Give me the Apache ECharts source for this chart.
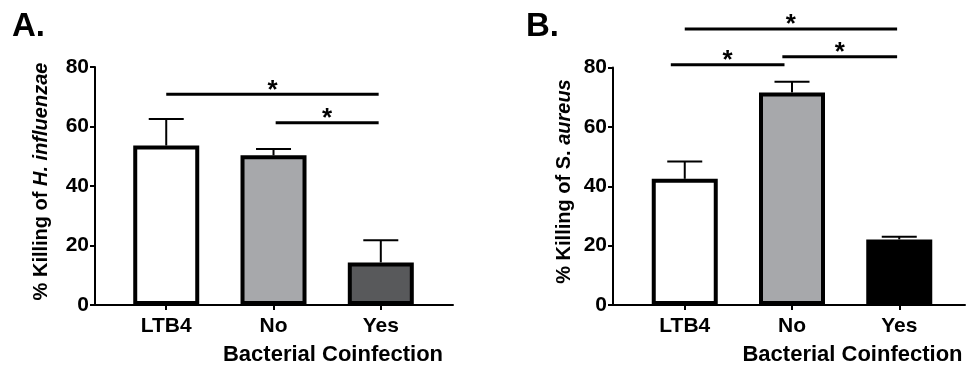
<!DOCTYPE html>
<html>
<head>
<meta charset="utf-8">
<script src="https://cdn.jsdelivr.net/npm/echarts@6/dist/echarts.min.js"></script>
<style>
html,body{margin:0;padding:0;background:#fff;}
#c{width:970px;height:366px;}
</style>
</head>
<body>
<div id="c"></div>
<script>
// ---- data ----
const categories = ['LTB4', 'No', 'Yes'];
const yTicks = [0, 20, 40, 60, 80];
// Panel A: % killing of H. influenzae
const meansA = [53.6, 50.3, 14.3];
const upperA = [62.5, 52.4, 21.8];
// Panel B: % killing of S. aureus
const meansB = [42.5, 71.6, 22.1];
const upperB = [48.3, 75.2, 23.0];
// significance brackets: [fromCategoryPos, toCategoryPos, yValue]
const sigA = [[1.0, 2.98, 70.8], [2.02, 2.98, 61.3]];
const sigB = [[1.0, 2.98, 93.0], [0.87, 1.93, 80.9], [1.91, 2.98, 83.6]];
const barColorsA = ['#ffffff', '#a7a8ab', '#58595b'];
const barColorsB = ['#ffffff', '#a7a8ab', '#000000'];

const FONT = '"Liberation Sans", Arial, sans-serif';
const catPos = categories.map((c, i) => i + 1);

function xAxisDef(gi, min, max) {
  return {
    type: 'value', gridIndex: gi, min: min, max: max,
    axisLine: { show: true, onZero: false, lineStyle: { color: '#000', width: 2 } },
    axisTick: { show: true, customValues: catPos, length: 5, lineStyle: { color: '#000', width: 2 } },
    axisLabel: {
      customValues: catPos, margin: 11,
      formatter: v => categories[Math.round(v) - 1] || '',
      color: '#000', fontFamily: FONT, fontWeight: 'bold', fontSize: 21
    },
    splitLine: { show: false }
  };
}
function yAxisDef(gi) {
  return {
    type: 'value', gridIndex: gi, min: 0, max: 80, interval: 20,
    axisLine: { show: true, lineStyle: { color: '#000', width: 2 } },
    axisTick: { show: true, length: 5, customValues: yTicks, lineStyle: { color: '#000', width: 2 } },
    axisLabel: { customValues: yTicks, margin: 6, color: '#000', fontFamily: FONT, fontWeight: 'bold', fontSize: 21 },
    splitLine: { show: false }
  };
}
function barSeries(gi, means, colors) {
  return {
    type: 'bar', xAxisIndex: gi, yAxisIndex: gi, barWidth: 66, z: 3,
    data: means.map((m, i) => ({ value: [catPos[i], m], itemStyle: { color: colors[i], borderColor: '#000', borderWidth: 4 } })),
    animation: false
  };
}
function errSeries(gi, means, upper) {
  return {
    type: 'custom', xAxisIndex: gi, yAxisIndex: gi, z: 2, clip: false,
    encode: { x: 0, y: [1, 2] },
    data: means.map((m, i) => [catPos[i], m, upper[i]]),
    renderItem: function (params, api) {
      const x = api.value(0), m = api.value(1), u = api.value(2);
      const p0 = api.coord([x, m]), p1 = api.coord([x, u]);
      const hw = 17.5;
      const st = { stroke: '#000', lineWidth: 2 };
      return { type: 'group', children: [
        { type: 'line', shape: { x1: p0[0], y1: p0[1], x2: p1[0], y2: p1[1] }, style: st },
        { type: 'line', shape: { x1: p1[0] - hw, y1: p1[1], x2: p1[0] + hw, y2: p1[1] }, style: st }
      ]};
    },
    animation: false
  };
}
function sigSeries(gi, sig) {
  return {
    type: 'custom', xAxisIndex: gi, yAxisIndex: gi, z: 4, clip: false,
    encode: { x: [0, 1], y: 2 },
    data: sig,
    renderItem: function (params, api) {
      const a = api.coord([api.value(0), api.value(2)]);
      const b = api.coord([api.value(1), api.value(2)]);
      return { type: 'group', children: [
        { type: 'line', shape: { x1: a[0], y1: a[1], x2: b[0], y2: b[1] }, style: { stroke: '#000', lineWidth: 3 } },
        { type: 'text', style: { text: '*', x: (a[0] + b[0]) / 2, y: a[1] - 4, align: 'center', verticalAlign: 'middle',
            font: 'bold 26px ' + FONT, fill: '#000' } }
      ]};
    },
    animation: false
  };
}

const chart = echarts.init(document.getElementById('c'), null, { renderer: 'canvas' });
chart.setOption({
  backgroundColor: '#fff',
  animation: false,
  grid: [
    { left: 95, right: 517, top: 67, bottom: 61, containLabel: false },
    { left: 613, right: 5, top: 67.5, bottom: 61, containLabel: false }
  ],
  xAxis: [xAxisDef(0, 0.336, 3.673), xAxisDef(1, 0.331, 3.613)],
  yAxis: [yAxisDef(0), yAxisDef(1)],
  series: [
    barSeries(0, meansA, barColorsA), errSeries(0, meansA, upperA), sigSeries(0, sigA),
    barSeries(1, meansB, barColorsB), errSeries(1, meansB, upperB), sigSeries(1, sigB)
  ],
  graphic: [
    { type: 'text', left: 12, top: 10, style: { text: 'A.', font: 'bold 33px ' + FONT, fill: '#000' } },
    { type: 'text', left: 526, top: 10, style: { text: 'B.', font: 'bold 33px ' + FONT, fill: '#000' } },
    { type: 'text', x: 41, y: 181.5, rotation: Math.PI / 2,
      style: { text: '{n|% Killing of }{i|H. influenzae}', align: 'center', verticalAlign: 'middle',
        rich: { n: { font: 'bold 20px ' + FONT, fill: '#000' }, i: { font: 'italic bold 20px ' + FONT, fill: '#000' } } } },
    { type: 'text', x: 564, y: 181.5, rotation: Math.PI / 2,
      style: { text: '{n|% Killing of S. }{i|aureus}', align: 'center', verticalAlign: 'middle',
        rich: { n: { font: 'bold 20px ' + FONT, fill: '#000' }, i: { font: 'italic bold 20px ' + FONT, fill: '#000' } } } },
    { type: 'text', x: 333, y: 355, style: { text: 'Bacterial Coinfection', align: 'center', verticalAlign: 'middle', font: 'bold 22px ' + FONT, fill: '#000' } },
    { type: 'text', x: 852.5, y: 355, style: { text: 'Bacterial Coinfection', align: 'center', verticalAlign: 'middle', font: 'bold 22px ' + FONT, fill: '#000' } }
  ]
});
</script>
</body>
</html>
